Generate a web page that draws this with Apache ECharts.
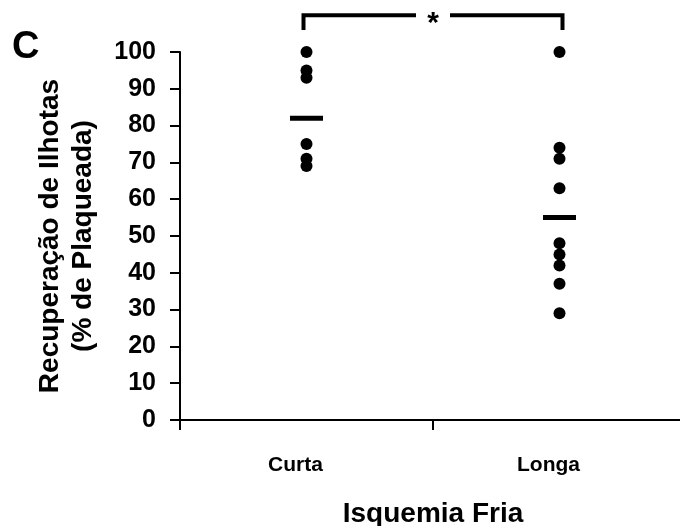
<!DOCTYPE html>
<html>
<head>
<meta charset="utf-8">
<script src="https://cdn.jsdelivr.net/npm/echarts@6/dist/echarts.min.js"></script>
<style>html,body{margin:0;padding:0;background:#fff}#c{width:680px;height:526px}</style>
</head>
<body>
<div id="c"></div>
<script>
var categories = ['Curta', 'Longa'];
var curtaValues = [100, 95, 93, 75, 71, 69];
var longaValues = [100, 74, 71, 63, 48, 45, 42, 37, 29];
var meanValues = [82, 55];
var yTicks = [0, 10, 20, 30, 40, 50, 60, 70, 80, 90, 100];
var bracketLevels = [110, 106]; // top line, end of drops
var significance = '*';

var FONT = '"Liberation Sans", Arial, sans-serif';
var dots = [];
curtaValues.forEach(function (v) { dots.push([0, v]); });
longaValues.forEach(function (v) { dots.push([1, v]); });
var means = meanValues.map(function (v, i) { return [i, v]; });

var chart = echarts.init(document.getElementById('c'), null, { renderer: 'canvas' });
chart.setOption({
  backgroundColor: '#fff',
  animation: false,
  grid: { left: 180, top: 52, height: 368, width: 506, containLabel: false, outerBoundsMode: 'none' },
  graphic: [{
    type: 'text', left: 12, top: 29,
    style: { text: 'C', font: 'bold 38px ' + FONT, fill: '#000' }
  }],
  xAxis: {
    type: 'category',
    data: categories,
    boundaryGap: true,
    axisLine: { show: true, lineStyle: { color: '#000', width: 2 } },
    axisTick: { show: true, length: 10, interval: 0, lineStyle: { color: '#000', width: 2 } },
    axisLabel: { color: '#000', fontFamily: FONT, fontWeight: 'bold', fontSize: 21, margin: 35, padding: [0, 22, 0, 0], interval: 0 },
    name: 'Isquemia Fria',
    nameLocation: 'middle',
    nameGap: 80,
    nameTextStyle: { color: '#000', fontFamily: FONT, fontWeight: 'bold', fontSize: 28 },
    splitLine: { show: false }
  },
  yAxis: {
    type: 'value',
    min: 0, max: 100, interval: 10,
    axisLine: { show: true, lineStyle: { color: '#000', width: 2 } },
    axisTick: { show: true, length: 10, lineStyle: { color: '#000', width: 2 } },
    axisLabel: {
      color: '#000', fontFamily: FONT, fontWeight: 'bold', fontSize: 25, margin: 24,
      formatter: function (v) { return yTicks.indexOf(v) >= 0 ? String(v) : ''; }
    },
    splitLine: { show: false },
    name: 'Recuperação de Ilhotas\n(% de Plaqueada)',
    nameLocation: 'middle',
    nameGap: 80,
    nameRotate: 90,
    nameTextStyle: { color: '#000', fontFamily: FONT, fontWeight: 'bold', fontSize: 28, lineHeight: 33 }
  },
  series: [
    {
      type: 'scatter',
      data: dots,
      symbol: 'circle',
      symbolSize: 12,
      itemStyle: { color: '#000', opacity: 1 },
      z: 3
    },
    {
      type: 'scatter',
      data: means,
      symbol: 'rect',
      symbolSize: [33, 5],
      itemStyle: { color: '#000', opacity: 1 },
      z: 3
    },
    {
      type: 'custom',
      clip: false,
      data: [[0, 1, bracketLevels[0], bracketLevels[1]]],
      renderItem: function (params, api) {
        var a = api.coord([api.value(0), api.value(2)]);
        var b = api.coord([api.value(1), api.value(2)]);
        var aLow = api.coord([api.value(0), api.value(3)]);
        var bLow = api.coord([api.value(1), api.value(3)]);
        var midX = (a[0] + b[0]) / 2;
        var gap = 17;
        var ls = { stroke: '#000', lineWidth: 4, fill: null };
        return {
          type: 'group',
          children: [
            { type: 'polyline', shape: { points: [[aLow[0] - 3, aLow[1]], [a[0] - 3, a[1]], [midX - gap, a[1]]] }, style: ls },
            { type: 'polyline', shape: { points: [[midX + gap, b[1]], [b[0] + 3, b[1]], [bLow[0] + 3, bLow[1]]] }, style: ls },
            { type: 'text', x: midX, y: a[1] + 9, style: { text: significance, font: 'bold 30px ' + FONT, fill: '#000', align: 'center', verticalAlign: 'middle' } }
          ]
        };
      },
      z: 4
    }
  ]
});
</script>
</body>
</html>
